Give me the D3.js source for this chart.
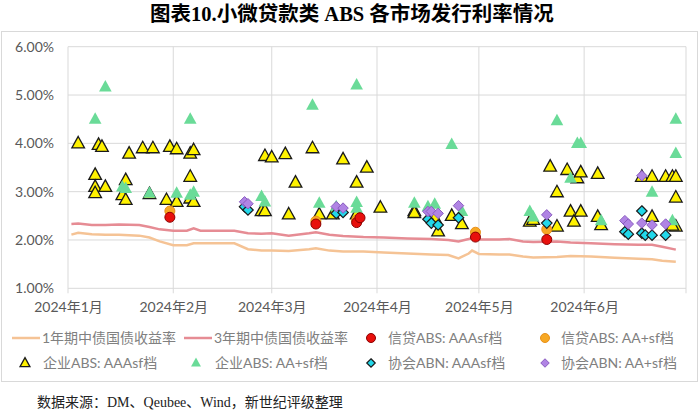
<!DOCTYPE html>
<html><head><meta charset="utf-8">
<script src="https://cdn.jsdelivr.net/npm/d3@7"></script>
<style>
body{margin:0;background:#fff;}
svg{display:block;}
</style></head>
<body><svg id="c" width="700" height="412"></svg>
<script>
const title = "图表10.小微贷款类 ABS 各市场发行利率情况";
const source = "数据来源：DM、Qeubee、Wind，新世纪评级整理";
const yTicks = [1, 2, 3, 4, 5, 6];
const monthTicks = ["2024-01-01","2024-02-01","2024-03-01","2024-04-01","2024-05-01","2024-06-01"];
const monthLabels = ["2024年1月","2024年2月","2024年3月","2024年4月","2024年5月","2024年6月"];

// Treasury yield lines
const lineDates = ["01-02","01-04","01-08","01-12","01-16","01-22","01-25","01-28","02-01","02-05","02-07","02-09","02-19","02-23","02-27","03-01","03-06","03-12","03-14","03-18","03-22","03-28","04-03","04-10","04-17","04-22","04-25","04-28","04-29","05-01","05-07","05-10","05-14","05-17","05-24","05-28","06-03","06-10","06-17","06-21","06-24","06-28"];
const yield1Y = [2.11,2.15,2.12,2.11,2.11,2.09,2.05,1.97,1.89,1.89,1.93,1.93,1.93,1.81,1.78,1.78,1.77,1.81,1.83,1.78,1.76,1.76,1.74,1.72,1.70,1.69,1.62,1.72,1.78,1.71,1.70,1.70,1.66,1.64,1.65,1.67,1.66,1.63,1.61,1.60,1.57,1.55];
const yield3Y = [2.33,2.34,2.31,2.31,2.32,2.31,2.27,2.22,2.19,2.19,2.24,2.19,2.19,2.14,2.13,2.14,2.09,2.14,2.16,2.11,2.08,2.06,2.05,2.03,2.02,2.00,1.97,2.02,2.04,2.01,2.01,2.02,1.97,1.96,1.97,1.95,1.93,1.91,1.90,1.90,1.86,1.80];

// 企业ABS AAAsf
const corpAAADates = ["01-04","01-09","01-09","01-09","01-10","01-11","01-12","01-17","01-18","01-18","01-19","01-23","01-25","01-26","01-30","01-31","02-02","02-02","02-06","02-06","02-06","02-07","02-07","02-27","02-28","02-28","03-01","03-05","03-06","03-08","03-13","03-15","03-19","03-22","03-26","03-26","03-29","04-02","04-12","04-12","04-18","04-19","04-23","04-26","05-16","05-17","05-22","05-24","05-24","05-27","05-28","05-29","05-30","05-31","05-31","06-05","06-05","06-06","06-18","06-21","06-21","06-25","06-27","06-28","06-28","06-28","06-27"];
const corpAAAVals = [4.00,3.35,3.10,2.97,3.97,3.93,3.10,2.93,3.24,2.83,3.79,3.90,2.95,3.90,2.83,3.93,3.88,2.79,3.79,3.31,2.86,3.86,2.79,2.60,3.74,2.60,3.71,3.78,2.53,3.19,3.90,2.53,2.53,3.67,3.19,2.53,3.50,2.67,2.60,2.56,2.46,2.18,2.50,2.33,2.38,2.42,3.52,2.99,2.28,3.45,2.59,2.38,3.28,3.40,2.59,3.37,2.48,2.31,3.31,3.31,2.48,3.31,3.31,3.31,2.88,2.28,2.30];
// 企业ABS AA+sf
const corpAAPDates = ["01-09","01-12","01-17","01-18","01-25","02-02","02-06","02-06","02-07","02-27","02-28","03-13","03-15","03-20","03-26","03-26","03-26","04-12","04-16","04-18","04-23","04-26","05-16","05-17","05-24","05-28","05-30","05-31","06-06","06-21","06-27","06-28","06-28"];
const corpAAPVals = [4.50,5.17,3.10,3.07,2.97,2.97,4.50,2.93,2.99,2.90,2.79,4.79,2.76,2.69,5.21,2.78,2.66,2.76,2.69,2.74,3.98,2.59,2.59,2.48,4.47,3.28,4.00,4.00,2.40,2.99,2.40,4.50,3.79];
// 信贷ABS AAAsf
const loanAAADates = ["01-31","03-14","03-26","03-27","04-30","05-21"];
const loanAAAVals = [2.47,2.33,2.36,2.46,2.06,2.01];
// 信贷ABS AA+sf
const loanAAPDates = ["01-31","03-14","03-26","04-30","05-21"];
const loanAAPVals = [2.60,2.39,2.41,2.16,2.22];
// 协会ABN AAAsf
const abnAAADates = ["02-22","02-23","03-20","03-22","04-16","04-17","04-19","04-25","05-21","06-13","06-14","06-18","06-18","06-19","06-21","06-25"];
const abnAAAVals = [2.69,2.62,2.55,2.57,2.43,2.35,2.31,2.46,2.35,2.17,2.12,2.60,2.14,2.10,2.10,2.10];
// 协会ABN AA+sf
const abnAAPDates = ["02-22","02-23","03-20","03-22","04-16","04-17","04-19","04-25","05-21","06-13","06-14","06-18","06-18","06-21","06-25"];
const abnAAPVals = [2.79,2.75,2.69,2.66,2.59,2.59,2.55,2.71,2.52,2.40,2.33,3.33,2.35,2.31,2.33];

const parse = d3.timeParse("%Y-%m-%d");
const pd = s => parse("2024-" + s);
const svg = d3.select("#c");
const CJK = "'Noto Sans CJK SC'";
const LAT = "Lato, 'Noto Sans CJK SC'";

const x = d3.scaleTime().domain([parse("2024-01-01"), parse("2024-07-01")]).range([68, 686]);
const y = d3.scaleLinear().domain([1, 6]).range([288.3, 46.7]);

// outer chart border
svg.append("rect").attr("x", 1.5).attr("y", 31.5).attr("width", 696).attr("height", 350)
  .attr("fill", "none").attr("stroke", "#d9d9d9").attr("stroke-width", 1);

// title
svg.append("text").attr("x", 352).attr("y", 21).attr("text-anchor", "middle")
  .attr("font-family", "'Liberation Serif', " + CJK).attr("font-weight", "bold")
  .attr("font-size", 20.5).attr("fill", "#000").text(title);

// grid
const g = svg.append("g");
g.selectAll("line.h").data(yTicks).join("line")
  .attr("x1", 68).attr("x2", 686).attr("y1", d => y(d)).attr("y2", d => y(d))
  .attr("stroke", "#d9d9d9").attr("stroke-width", 1);
const vTicks = monthTicks.map(parse).concat([parse("2024-07-01")]);
g.selectAll("line.v").data(vTicks).join("line")
  .attr("x1", d => x(d)).attr("x2", d => x(d)).attr("y1", y(6)).attr("y2", y(1) + 5)
  .attr("stroke", "#d9d9d9").attr("stroke-width", 1);

// y axis labels
const yAx = d3.axisLeft(y).tickValues(yTicks).tickFormat(d => d.toFixed(2) + "%").tickSize(0).tickPadding(14);
const ya = svg.append("g").attr("transform", "translate(68,0)").call(yAx);
ya.select(".domain").remove();
ya.selectAll("text").attr("font-family", LAT).attr("font-size", 14).attr("fill", "#595959");

// x axis labels
const xAx = d3.axisBottom(x).tickValues(monthTicks.map(parse)).tickFormat((d, i) => monthLabels[i]).tickSize(0).tickPadding(14);
const xa = svg.append("g").attr("transform", "translate(0," + y(1) + ")").call(xAx);
xa.select(".domain").remove();
xa.selectAll("text").attr("font-family", LAT).attr("font-size", 14).attr("fill", "#595959");

// lines
const line = d3.line().x(d => x(d[0])).y(d => y(d[1]));
const l1 = lineDates.map((d, i) => [pd(d), yield1Y[i]]);
const l3 = lineDates.map((d, i) => [pd(d), yield3Y[i]]);
const C1 = "#F5C395", C3 = "#E68C94";
svg.append("path").datum(l1).attr("d", line).attr("fill", "none").attr("stroke", C1).attr("stroke-width", 2.5);
svg.append("path").datum(l3).attr("d", line).attr("fill", "none").attr("stroke", C3).attr("stroke-width", 2.5);

// marker shapes
const tri = s => `M0,${-s*0.6}L${s*0.55},${s*0.4}L${-s*0.55},${s*0.4}Z`;
const dia = s => `M0,${-s/2}L${s/2},0L0,${s/2}L${-s/2},0Z`;

function drawPts(dates, vals, kind, fill, stroke, sw) {
  const data = dates.map((d, i) => [pd(d), vals[i]]);
  const sel = svg.append("g").selectAll("path").data(data).join(kind === "circle" ? "circle" : "path");
  if (kind === "circle") {
    sel.attr("cx", d => x(d[0])).attr("cy", d => y(d[1])).attr("r", 5);
  } else {
    sel.attr("transform", d => `translate(${x(d[0])},${y(d[1])})`)
      .attr("d", kind === "tri" ? tri(11.5) : dia(10.5));
  }
  sel.attr("fill", fill).attr("stroke", stroke).attr("stroke-width", sw);
}
const YEL = "#FFF200", GRN = "#6ADB98", RED = "#E8100C", ORG = "#F7A823", CYA = "#22D8EA", PUR = "#B084E4";
drawPts(corpAAADates, corpAAAVals, "tri", YEL, "#1a1a1a", 1.3);
drawPts(corpAAPDates, corpAAPVals, "tri", GRN, "none", 0);
drawPts(loanAAPDates, loanAAPVals, "circle", ORG, "#E8901A", 1);
drawPts(loanAAADates, loanAAAVals, "circle", RED, "#8B0000", 1);
drawPts(abnAAADates, abnAAAVals, "dia", CYA, "#1a1a1a", 1.2);
drawPts(abnAAPDates, abnAAPVals, "dia", PUR, "#8a5cc0", 1);

// legend
const lg = svg.append("g").attr("font-family", LAT).attr("font-size", 14).attr("fill", "#808080");
const r1 = 338, r2 = 363;
lg.append("line").attr("x1", 12).attr("x2", 40).attr("y1", r1).attr("y2", r1).attr("stroke", C1).attr("stroke-width", 2.5);
lg.append("text").attr("x", 42).attr("y", r1 + 5).text("1年期中债国债收益率");
lg.append("line").attr("x1", 184).attr("x2", 212).attr("y1", r1).attr("y2", r1).attr("stroke", C3).attr("stroke-width", 2.5);
lg.append("text").attr("x", 214).attr("y", r1 + 5).text("3年期中债国债收益率");
lg.append("circle").attr("cx", 371).attr("cy", r1).attr("r", 4.5).attr("fill", RED).attr("stroke", "#8B0000");
lg.append("text").attr("x", 388).attr("y", r1 + 5).text("信贷ABS: AAAsf档");
lg.append("circle").attr("cx", 545).attr("cy", r1).attr("r", 4.5).attr("fill", ORG).attr("stroke", "#E8901A");
lg.append("text").attr("x", 561).attr("y", r1 + 5).text("信贷ABS: AA+sf档");
lg.append("path").attr("transform", `translate(25,${r2})`).attr("d", tri(9)).attr("fill", YEL).attr("stroke", "#1a1a1a").attr("stroke-width", 1.3);
lg.append("text").attr("x", 43).attr("y", r2 + 5).text("企业ABS: AAAsf档");
lg.append("path").attr("transform", `translate(196,${r2})`).attr("d", tri(9)).attr("fill", GRN);
lg.append("text").attr("x", 215).attr("y", r2 + 5).text("企业ABS: AA+sf档");
lg.append("path").attr("transform", `translate(371,${r2})`).attr("d", dia(8.5)).attr("fill", CYA).attr("stroke", "#1a1a1a").attr("stroke-width", 1.2);
lg.append("text").attr("x", 388).attr("y", r2 + 5).text("协会ABN: AAAsf档");
lg.append("path").attr("transform", `translate(545,${r2})`).attr("d", dia(8.5)).attr("fill", PUR).attr("stroke", "#8a5cc0");
lg.append("text").attr("x", 561).attr("y", r2 + 5).text("协会ABN: AA+sf档");

// source
svg.append("text").attr("x", 37).attr("y", 407).attr("font-family", "'Liberation Serif', " + CJK)
  .attr("font-size", 14).attr("fill", "#222").text(source);
</script></body></html>
